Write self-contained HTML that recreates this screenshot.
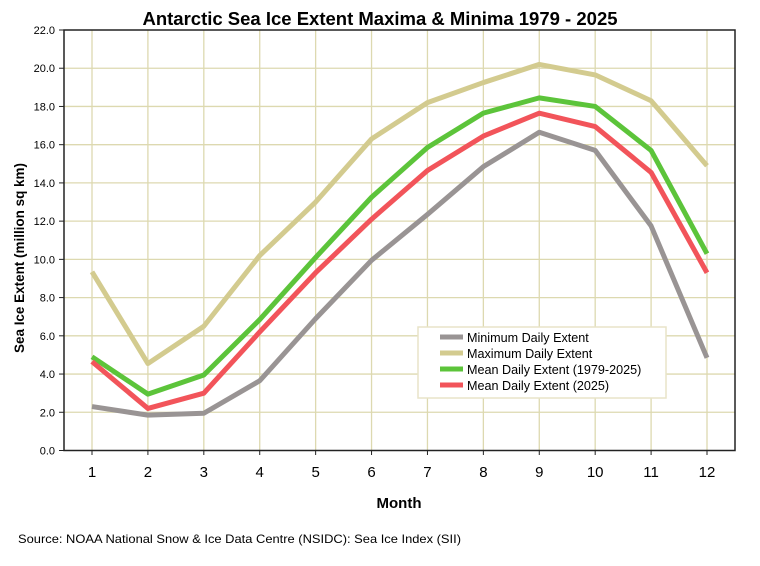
<!DOCTYPE html>
<html><head><meta charset="utf-8"><style>
body{margin:0;background:#fff;width:760px;height:561px;overflow:hidden;font-family:"Liberation Sans",sans-serif}
</style></head><body>
<svg id="chart" width="760" height="561" font-family="Liberation Sans, sans-serif">
<text x="380" y="25" text-anchor="middle" font-size="18.5" font-weight="bold">Antarctic Sea Ice Extent Maxima &amp; Minima 1979 - 2025</text>
<g id="grid"></g>
<g id="series"></g>
<rect x="64" y="30" width="671" height="420.5" fill="none" stroke="#222" stroke-width="1.5"/>
<g id="axes"></g>
<text transform="translate(24,258) rotate(-90)" text-anchor="middle" font-size="13.5" font-weight="bold" textLength="190" lengthAdjust="spacingAndGlyphs">Sea Ice Extent (million sq km)</text>
<text x="399" y="508" text-anchor="middle" font-size="15" font-weight="bold">Month</text>
<text x="18" y="543" font-size="12" textLength="443" lengthAdjust="spacingAndGlyphs">Source: NOAA National Snow &amp; Ice Data Centre (NSIDC): Sea Ice Index (SII)</text>
<g>
<rect x="418" y="327" width="248" height="71" fill="#fff" stroke="#e8e4c8" stroke-width="1.5"/>
<g id="legend"></g>
</g>
</svg>
<script>
const months=[1,2,3,4,5,6,7,8,9,10,11,12];
const minExtent=[2.3,1.85,1.95,3.65,6.9,9.95,12.35,14.85,16.65,15.7,11.75,4.85];
const maxExtent=[9.35,4.55,6.5,10.2,13.0,16.3,18.2,19.25,20.2,19.65,18.3,14.9];
const meanExtent=[4.9,2.95,3.95,6.85,10.1,13.25,15.85,17.65,18.45,18.0,15.7,10.3];
const mean2025=[4.65,2.2,3.0,6.2,9.3,12.1,14.65,16.45,17.65,16.95,14.55,9.3];
const yTicks=[0,2,4,6,8,10,12,14,16,18,20,22];
const seriesNames=["Minimum Daily Extent","Maximum Daily Extent","Mean Daily Extent (1979-2025)","Mean Daily Extent (2025)"];
const NS="http://www.w3.org/2000/svg";
const X=m=>92+(m-1)*(707-92)/11;
const Y=v=>450.5-v*(420.5/22);
function mk(t,a,p){const e=document.createElementNS(NS,t);for(const k in a)e.setAttribute(k,a[k]);p.appendChild(e);return e;}
const grid=document.getElementById('grid'),axes=document.getElementById('axes');
yTicks.forEach(v=>{
 if(v>0&&v<22){const l=mk('line',{x1:64,x2:735,y1:Y(v),y2:Y(v),stroke:'#ddd9b0','stroke-width':1.3},grid);
 
 }
 const t=mk('line',{x1:59,x2:64,y1:Y(v),y2:Y(v),stroke:'#222'},axes);
 
 
 const tx=mk('text',{x:55,y:Y(v)+4,'text-anchor':'end','font-size':11},axes);tx.textContent=v.toFixed(1);
 
 
});
months.forEach(m=>{
 const l=mk('line',{x1:X(m),x2:X(m),y1:30,y2:450,stroke:'#ddd9b0','stroke-width':1.3},grid);
 
 
 const t=mk('line',{x1:X(m),x2:X(m),y1:450,y2:455,stroke:'#222'},axes);
 
 
 const tx=mk('text',{x:X(m),y:477,'text-anchor':'middle','font-size':15},axes);tx.textContent=m;
 
 
});
const colors=['#999494','#d3cb8f','#5cc43a','#f2545a'];
const data=[minExtent,maxExtent,meanExtent,mean2025];
const ser=document.getElementById('series'),leg=document.getElementById('legend');
data.forEach((d,i)=>{
 const p=mk('polyline',{points:d.map((v,j)=>X(months[j])+','+Y(v)).join(' '),fill:'none',stroke:colors[i],'stroke-width':5,'stroke-linejoin':'round'},ser);
 
 
 const y=337+i*16;
 const s=mk('line',{x1:440,x2:463,y1:y,y2:y,stroke:colors[i],'stroke-width':5},leg);
 
 
 const t=mk('text',{x:467,y:y+5,'font-size':12.6},leg);t.textContent=seriesNames[i];
 
 
});
</script>
</body></html>
